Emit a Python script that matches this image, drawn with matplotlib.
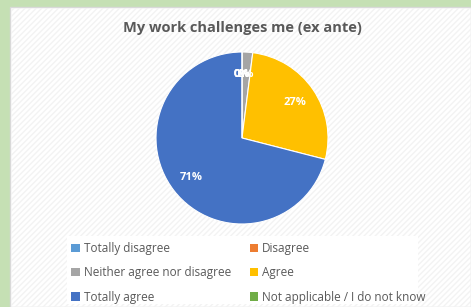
import matplotlib.pyplot as plt
from matplotlib.patches import Rectangle

# Answers and their share of respondents (percent)
categories = ['Totally disagree', 'Disagree', 'Neither agree nor disagree',
              'Agree', 'Totally agree', 'Not applicable / I do not know']
shares = [0, 0, 2, 27, 71, 0]
colors = ['#5b9bd5', '#ed7d31', '#a5a5a5', '#ffc000', '#4472c4', '#70ad47']
title = 'My work challenges me (ex ante)'

plt.rcParams['font.family'] = ['Open Sans', 'DejaVu Sans']

W, H = 471, 307
fig = plt.figure(figsize=(W / 100, H / 100), dpi=100)
fig.patch.set_facecolor('#c5e0b4')

# chart area with faint diagonal stripes
fig.patches.append(Rectangle((10 / W, 0), 1 - 10 / W, 1 - 7 / H,
                             transform=fig.transFigure, facecolor='white',
                             edgecolor='#d9d9d9', linewidth=1.0, zorder=0))
fig.patches.append(Rectangle((11 / W, 0), 1 - 11 / W, 1 - 8 / H,
                             transform=fig.transFigure, facecolor='none',
                             edgecolor='#f3f3f3', hatch='//////',
                             linewidth=0, zorder=0))

fig.text(242 / W, 1 - 28 / H, title, ha='center', va='center',
         fontsize=10.5, fontweight='bold', color='#595959')

cx, cy, r = 242, 138, 86
ax = fig.add_axes([(cx - r) / W, (H - cy - r) / H, 2 * r / W, 2 * r / H])
ax.set_zorder(2)
wedges, texts, autotexts = ax.pie(
    shares, colors=colors, startangle=90, counterclock=False,
    autopct='%1.0f%%', pctdistance=0.74,
    wedgeprops=dict(edgecolor='white', linewidth=0.8),
    textprops=dict(color='white', fontweight='bold', fontsize=8))
ax.set_xlim(-1, 1)
ax.set_ylim(-1, 1)
ax.set_aspect('equal')
ax.axis('off')

# legend box
fig.patches.append(Rectangle((67 / W, 1 - 304 / H), 351 / W, 68 / H,
                             transform=fig.transFigure, facecolor='white',
                             edgecolor='none', zorder=0.5))
handles = [Rectangle((0, 0), 1, 1, facecolor=c) for c in colors]
order = [0, 2, 4, 1, 3, 5]
leg = fig.legend([handles[i] for i in order], [categories[i] for i in order],
                 ncol=2, loc='upper left',
                 bbox_to_anchor=(63 / W, 1 - 234 / H), frameon=False,
                 fontsize=8.5, handlelength=0.7, handleheight=0.7,
                 handletextpad=0.35, columnspacing=1.6, labelspacing=0.95,
                 borderpad=0.2)
leg.set_zorder(3)
for t in leg.get_texts():
    t.set_color('#595959')

fig.savefig('out.png', dpi=100, facecolor=fig.get_facecolor())
